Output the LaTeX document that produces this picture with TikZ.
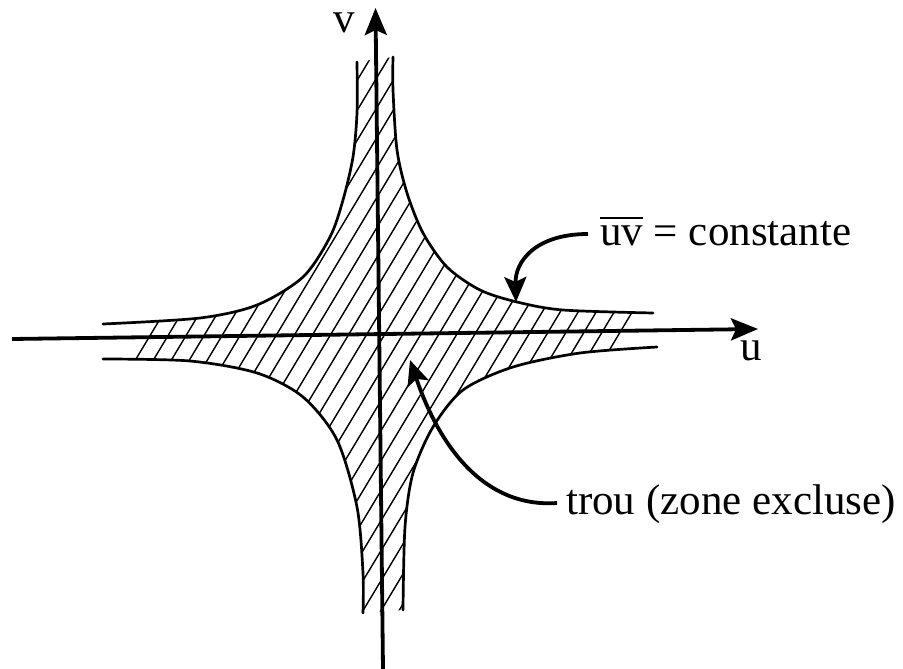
\documentclass[tikz,border=0pt]{standalone}
\usepackage{fontspec}
\setmainfont{Liberation Serif}
\usetikzlibrary{arrows.meta}
\begin{document}
\begin{tikzpicture}[x=1pt,y=-1pt,
  axis/.style={line width=3.8pt,-{Stealth[length=27pt,width=22pt,inset=5pt]}},
  branch/.style={line width=2.7pt,line cap=round},
  hatchline/.style={line width=1.4pt},
  pointer/.style={line width=3.8pt,-{Stealth[length=25pt,width=22pt,inset=5pt]}},
  lbl/.style={font=\fontsize{43}{51}\selectfont,inner sep=0pt}]
\useasboundingbox (0,0) rectangle (903,669);
% hatching of the excluded zone
\begin{scope}
\clip plot[smooth] coordinates {(103,324) (200,318) (257,305) (303,277) (330,237) (343,200) (353,157) (357,113) (357,62)}
  -- plot[smooth] coordinates {(393,57) (393,90) (397,150) (407,193) (423,233) (447,267) (480,290) (517,302) (563,310) (653,313)}
  -- plot[smooth] coordinates {(657,347) (580,353) (513,367) (463,390) (433,427) (413,473) (405,527) (403,610)}
  -- plot[smooth] coordinates {(363,613) (363,573) (357,507) (337,440) (303,397) (257,373) (190,361) (103,359)}
  -- cycle;
\foreach \c in {-50,-32,...,418}
  \draw[hatchline] (\c,669) -- (\c+401.4,0);
\end{scope}
% the four branches uv = constante
\draw[branch] plot[smooth] coordinates {(103,324) (200,318) (257,305) (303,277) (330,237) (343,200) (353,157) (357,113) (357,62)};
\draw[branch] plot[smooth] coordinates {(393,57) (393,90) (397,150) (407,193) (423,233) (447,267) (480,290) (517,302) (563,310) (653,313)};
\draw[branch] plot[smooth] coordinates {(657,347) (580,353) (513,367) (463,390) (433,427) (413,473) (405,527) (403,610)};
\draw[branch] plot[smooth] coordinates {(363,613) (363,573) (357,507) (337,440) (303,397) (257,373) (190,361) (103,359)};
% axes
\coordinate (uO) at (12,339);
\coordinate (uE) at (758,329);
\coordinate (vO) at (383,669);
\coordinate (vE) at (375.5,8);
\draw[axis] (uO) -- (uE);
\draw[axis] (vO) -- (vE);
% labels
\node[lbl,anchor=base] (vlab) at (344,33) {v};
\node[lbl,anchor=base] (ulab) at (751,360) {u};
\node[lbl,anchor=base west] (uvlab) at (600,245) {\leavevmode\vbox{\hrule height 2.6pt\kern 6pt\hbox{uv}} = constante};
\node[lbl,anchor=base west] (troulab) at (566,514) {trou (zone excluse)};
% pointers
\coordinate (uvstart) at (588,234);
\coordinate (uvtip) at (516,302);
\draw[pointer] (uvstart) .. controls (535,234) and (515,262) .. (uvtip);
\coordinate (troustart) at (557,503);
\coordinate (troutip) at (410,360);
\draw[pointer] (troustart) .. controls (485,508) and (440,448) .. (troutip);
\end{tikzpicture}
\end{document}
